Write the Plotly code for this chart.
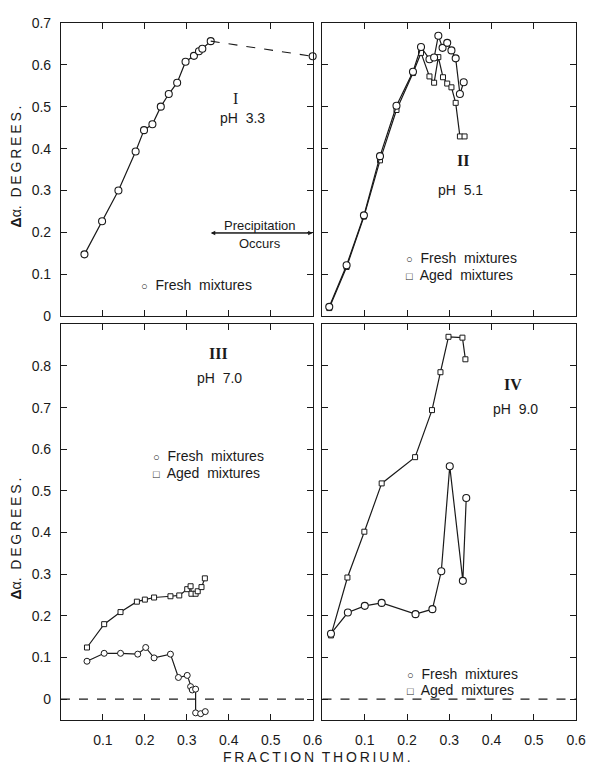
import plotly.graph_objects as go
from plotly.subplots import make_subplots

# ---- Panel I, pH 3.3 : fresh mixtures ----
p1_x = [0.056, 0.098, 0.137, 0.178, 0.198, 0.218, 0.238, 0.257, 0.277, 0.297, 0.317, 0.329, 0.337, 0.357]
p1_y = [0.148, 0.227, 0.300, 0.393, 0.444, 0.458, 0.500, 0.530, 0.557, 0.607, 0.621, 0.632, 0.638, 0.656]
# point measured after precipitation (joined with a dashed line)
p1_precip_x = [0.600]
p1_precip_y = [0.620]

# ---- Panel II, pH 5.1 ----
p2_fresh_x = [0.016, 0.057, 0.098, 0.136, 0.175, 0.214, 0.233, 0.253, 0.264, 0.274, 0.284, 0.295, 0.305, 0.315, 0.325, 0.334]
p2_fresh_y = [0.023, 0.122, 0.241, 0.382, 0.502, 0.583, 0.642, 0.613, 0.617, 0.669, 0.640, 0.652, 0.634, 0.615, 0.530, 0.558]
p2_aged_x = [0.016, 0.057, 0.098, 0.136, 0.175, 0.214, 0.233, 0.253, 0.264, 0.274, 0.285, 0.295, 0.305, 0.315, 0.325, 0.336]
p2_aged_y = [0.020, 0.118, 0.238, 0.372, 0.492, 0.580, 0.628, 0.572, 0.557, 0.618, 0.570, 0.555, 0.546, 0.509, 0.429, 0.429]

# ---- Panel III, pH 7.0 ----
p3_fresh_x = [0.062, 0.103, 0.142, 0.183, 0.202, 0.222, 0.261, 0.280, 0.301, 0.309, 0.313, 0.321, 0.321, 0.333, 0.344]
p3_fresh_y = [0.091, 0.110, 0.110, 0.108, 0.124, 0.099, 0.108, 0.052, 0.057, 0.030, 0.022, 0.024, -0.033, -0.035, -0.030]
p3_aged_x = [0.062, 0.103, 0.142, 0.181, 0.200, 0.222, 0.261, 0.282, 0.301, 0.309, 0.311, 0.321, 0.326, 0.335, 0.343]
p3_aged_y = [0.124, 0.180, 0.209, 0.234, 0.239, 0.244, 0.247, 0.249, 0.264, 0.271, 0.253, 0.253, 0.259, 0.269, 0.290]

# ---- Panel IV, pH 9.0 ----
p4_fresh_x = [0.020, 0.060, 0.100, 0.140, 0.220, 0.260, 0.281, 0.301, 0.332, 0.340]
p4_fresh_y = [0.157, 0.208, 0.224, 0.231, 0.204, 0.216, 0.307, 0.559, 0.284, 0.483]
p4_aged_x = [0.020, 0.059, 0.099, 0.140, 0.219, 0.259, 0.279, 0.298, 0.331, 0.338]
p4_aged_y = [0.153, 0.292, 0.402, 0.518, 0.581, 0.694, 0.785, 0.870, 0.868, 0.816]

# ---- axis ticks ----
x_ticks = [0.1, 0.2, 0.3, 0.4, 0.5, 0.6]
x_ticktext = ["0.1", "0.2", "0.3", "0.4", "0.5", "0.6"]
top_y_ticks = [0, 0.1, 0.2, 0.3, 0.4, 0.5, 0.6, 0.7]
top_y_ticktext = ["0", "0.1", "0.2", "0.3", "0.4", "0.5", "0.6", "0.7"]
bot_y_ticks = [0, 0.1, 0.2, 0.3, 0.4, 0.5, 0.6, 0.7, 0.8]
bot_y_ticktext = ["0", "0.1", "0.2", "0.3", "0.4", "0.5", "0.6", "0.7", "0.8"]

INK = "#1a1a1a"
FONT = "Liberation Sans"
SERIF = "Liberation Serif"
TS = "\u2009"  # thin space used to letter-space the axis titles


def spaced(s):
    return TS.join(s)


fig = make_subplots(rows=2, cols=2)

line = dict(color=INK, width=1.2)
circle = dict(symbol="circle", size=7, color="white", line=dict(color=INK, width=1.1))
small_circle = dict(symbol="circle", size=6, color="white", line=dict(color=INK, width=1.0))
square = dict(symbol="square", size=5, color="white", line=dict(color=INK, width=1.0))

# Panel I
fig.add_trace(go.Scatter(x=p1_x, y=p1_y, mode="lines+markers", line=line, marker=circle,
                         name="Fresh mixtures"), row=1, col=1)
fig.add_trace(go.Scatter(x=[p1_x[-1]] + p1_precip_x, y=[p1_y[-1]] + p1_precip_y, mode="lines",
                         line=dict(color=INK, width=1.1, dash="dash")), row=1, col=1)
fig.add_trace(go.Scatter(x=p1_precip_x, y=p1_precip_y, mode="markers", marker=circle,
                         cliponaxis=False), row=1, col=1)

# Panel II
fig.add_trace(go.Scatter(x=p2_aged_x, y=p2_aged_y, mode="lines+markers", line=line, marker=square,
                         name="Aged mixtures"), row=1, col=2)
fig.add_trace(go.Scatter(x=p2_fresh_x, y=p2_fresh_y, mode="lines+markers", line=line, marker=circle,
                         name="Fresh mixtures"), row=1, col=2)

# Panel III
fig.add_trace(go.Scatter(x=p3_aged_x, y=p3_aged_y, mode="lines+markers", line=line, marker=square,
                         name="Aged mixtures"), row=2, col=1)
fig.add_trace(go.Scatter(x=p3_fresh_x, y=p3_fresh_y, mode="lines+markers", line=line, marker=small_circle,
                         name="Fresh mixtures"), row=2, col=1)

# Panel IV
fig.add_trace(go.Scatter(x=p4_aged_x, y=p4_aged_y, mode="lines+markers", line=line, marker=square,
                         name="Aged mixtures"), row=2, col=2)
fig.add_trace(go.Scatter(x=p4_fresh_x, y=p4_fresh_y, mode="lines+markers", line=line, marker=circle,
                         name="Fresh mixtures"), row=2, col=2)

W, H = 596, 773
left_dom = [62 / W, 318 / W]
right_dom = [328 / W, 586 / W]
top_dom = [1 - 315 / H, 1 - 15 / H]
bot_dom = [1 - 727 / H, 1 - 323 / H]

axis_common = dict(showline=True, linecolor=INK, linewidth=1, mirror="ticks", ticks="inside",
                   ticklen=6, tickcolor=INK, tickwidth=1, showgrid=False, zeroline=False,
                   tickfont=dict(family=FONT, size=14, color=INK))

# x axes
for name, dom, lab in [("xaxis", left_dom, False), ("xaxis2", right_dom, False),
                       ("xaxis3", left_dom, True), ("xaxis4", right_dom, True)]:
    fig.layout[name].update(axis_common, domain=dom, range=[0, 0.6], tickvals=x_ticks,
                            ticktext=x_ticktext, showticklabels=lab, ticklabelstandoff=7)
# y axes
fig.layout.yaxis.update(axis_common, domain=top_dom, range=[0, 0.7], tickvals=top_y_ticks,
                        ticktext=top_y_ticktext, showticklabels=True, ticklabelstandoff=6)
fig.layout.yaxis2.update(axis_common, domain=top_dom, range=[0, 0.7], tickvals=top_y_ticks,
                         showticklabels=False)
fig.layout.yaxis3.update(axis_common, domain=bot_dom, range=[-0.05, 0.9], tickvals=bot_y_ticks,
                         ticktext=bot_y_ticktext, showticklabels=True, ticklabelstandoff=6)
fig.layout.yaxis4.update(axis_common, domain=bot_dom, range=[-0.05, 0.9], tickvals=bot_y_ticks,
                         showticklabels=False)

# dashed zero reference lines in the lower panels
for xr, yr in [("x3", "y3"), ("x4", "y4")]:
    fig.add_shape(type="line", xref=f"{xr} domain", yref=yr, x0=0, x1=1, y0=0, y1=0,
                  line=dict(color=INK, width=1.1, dash="dash"))

ann = []


def text(xr, yr, x, y, s, size=14, family=FONT, xanchor="center"):
    ann.append(dict(xref=xr, yref=yr, x=x, y=y, text=s, showarrow=False, xanchor=xanchor,
                    yanchor="middle", font=dict(family=family, size=size, color=INK)))


def key(xr, yr, x, y, sym, label):
    s = f"<span style='font-size:11px'>{sym}</span>\u00a0 {label}"
    text(xr, yr, x, y, s, xanchor="left")


# Panel I labels
text("x", "y", 0.417, 0.519, "I", size=16, family=SERIF)
text("x", "y", 0.433, 0.472, "pH\u00a0 3.3")
text("x", "y", 0.475, 0.216, "Precipitation", size=13)
text("x", "y", 0.475, 0.173, "Occurs", size=13)
key("x", "y", 0.186, 0.075, "○", "Fresh\u00a0 mixtures")
# double-headed arrow marking the precipitation range
for xa, xb in [(p1_x[-1], p1_precip_x[0]), (p1_precip_x[0], p1_x[-1])]:
    ann.append(dict(xref="x", yref="y", axref="x", ayref="y", x=xa, y=0.199, ax=xb, ay=0.199,
                    text="", showarrow=True, arrowhead=2, arrowsize=0.9, arrowwidth=1,
                    arrowcolor=INK))

# Panel II labels
text("x2", "y2", 0.332, 0.372, "<b>II</b>", size=16, family=SERIF)
text("x2", "y2", 0.326, 0.301, "pH\u00a0 5.1")
key("x2", "y2", 0.192, 0.140, "○", "Fresh\u00a0 mixtures")
key("x2", "y2", 0.192, 0.099, "□", "Aged\u00a0 mixtures")

# Panel III labels
text("x3", "y3", 0.376, 0.830, "<b>III</b>", size=16, family=SERIF)
text("x3", "y3", 0.378, 0.771, "pH\u00a0 7.0")
key("x3", "y3", 0.215, 0.584, "○", "Fresh\u00a0 mixtures")
key("x3", "y3", 0.215, 0.544, "□", "Aged\u00a0 mixtures")

# Panel IV labels
text("x4", "y4", 0.450, 0.755, "<b>IV</b>", size=16, family=SERIF)
text("x4", "y4", 0.456, 0.696, "pH\u00a0 9.0")
key("x4", "y4", 0.195, 0.061, "○", "Fresh\u00a0 mixtures")
key("x4", "y4", 0.195, 0.021, "□", "Aged\u00a0 mixtures")

# axis titles
ytitle = "<b>Δ</b>α." + "\u00a0 " + spaced("DEGREES.")
for yc in [1 - 162 / H, 1 - 542 / H]:
    ann.append(dict(xref="paper", yref="paper", x=16 / W, y=yc, text=ytitle, textangle=-90,
                    showarrow=False, xanchor="center", yanchor="middle",
                    font=dict(family=FONT, size=14, color=INK)))
ann.append(dict(xref="paper", yref="paper", x=322 / W, y=1 - 765 / H,
                text=spaced("FRACTION") + "\u00a0 " + spaced("THORIUM."), showarrow=False,
                xanchor="center", yanchor="middle", font=dict(family=FONT, size=14, color=INK)))

fig.update_layout(width=W, height=H, margin=dict(l=0, r=0, t=0, b=0), showlegend=False,
                  paper_bgcolor="white", plot_bgcolor="white", annotations=ann)

fig.write_html("out.html")
